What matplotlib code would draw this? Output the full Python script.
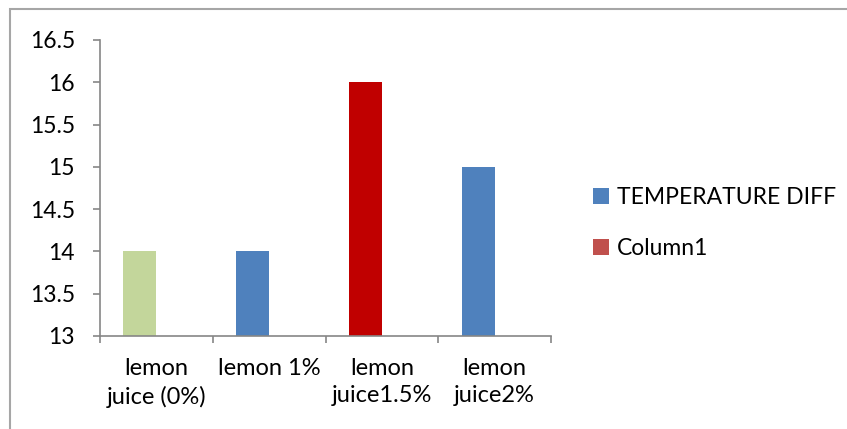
import matplotlib
matplotlib.use("Agg")
from matplotlib import pyplot as plt
from matplotlib.patches import Patch, Rectangle

categories = ["lemon\njuice (0%)", "lemon 1%", "lemon\njuice1.5%", "lemon\njuice2%"]
values = [14, 14, 16, 15]
bar_colors = ["#C3D69B", "#4F81BD", "#C00000", "#4F81BD"]
legend_labels = ["TEMPERATURE DIFF", "Column1"]
legend_colors = ["#4F81BD", "#C0504D"]
y_ticks = [13, 13.5, 14, 14.5, 15, 15.5, 16, 16.5]

plt.rcParams['font.family'] = ['Lato', 'DejaVu Sans']
axis_grey = "#868686"

fig = plt.figure(figsize=(8.47, 4.29), dpi=100)
ax = fig.add_axes([100/847, 1 - 336/429, (551 - 100)/847, (336 - 40)/429])

# clustered layout: first series sits left of centre, Column1 (empty) to the right
width = 0.293
xs = range(len(categories))
ax.bar([x - width/2 for x in xs], values, width=width, color=bar_colors)
ax.set_ylim(13, 16.5)
ax.set_xlim(-0.5, len(categories) - 0.5)

ax.set_yticks(y_ticks)
ax.set_yticklabels([f"{t:g}" for t in y_ticks])
ax.set_xticks(list(xs))
ax.set_xticklabels(categories, linespacing=1.35)
ax.set_xticks([i - 0.5 for i in range(len(categories) + 1)], minor=True)

ax.tick_params(axis="y", length=5, width=1.2, color=axis_grey, pad=13, labelsize=16.5)
ax.tick_params(axis="x", which="major", length=0, pad=16, labelsize=17)
ax.tick_params(axis="x", which="minor", length=5, width=1.2, color=axis_grey)

for side in ["top", "right"]:
    ax.spines[side].set_visible(False)
for side in ["left", "bottom"]:
    ax.spines[side].set_color(axis_grey)
    ax.spines[side].set_linewidth(1.2)

handles = [Patch(facecolor=c, edgecolor="none") for c in legend_colors]
fig.legend(handles, legend_labels, loc="center left", bbox_to_anchor=(593/847, 1 - 223/429),
           frameon=False, fontsize=16.5, handlelength=0.7, handleheight=0.7,
           handletextpad=0.35, labelspacing=1.3, borderpad=0, borderaxespad=0)

# chart border (runs off the right and bottom edges)
fig.add_artist(Rectangle((10/847, -0.1), 1.2, 1.1 - 9/429, transform=fig.transFigure,
                         fill=False, edgecolor="#A6A6A6", linewidth=1.5))

fig.savefig("out.png", dpi=100)
